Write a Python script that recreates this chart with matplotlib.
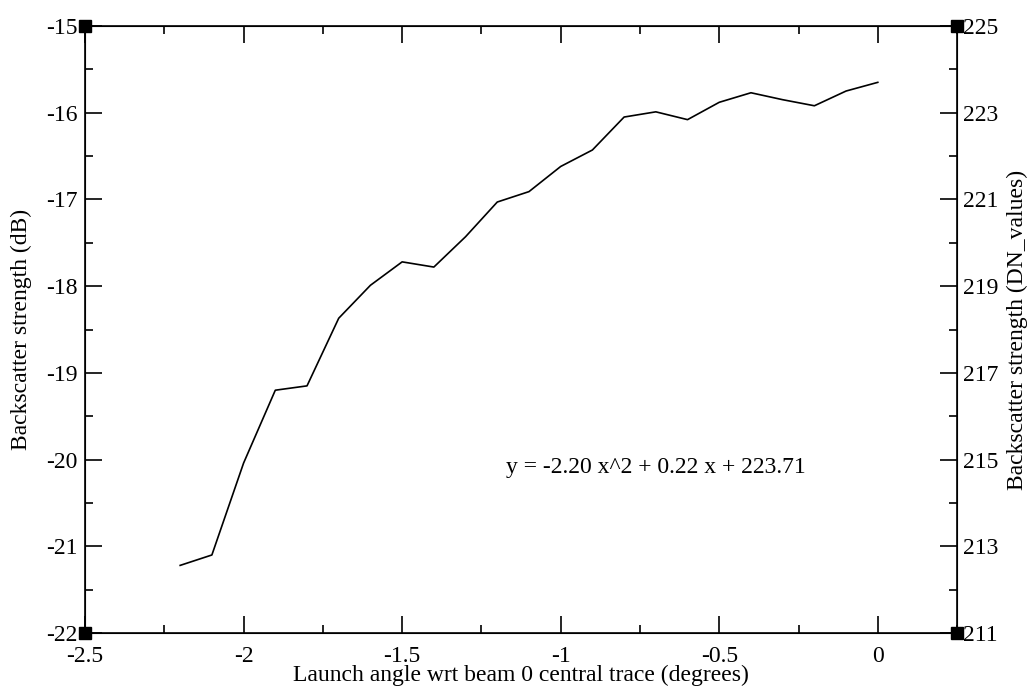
import matplotlib
matplotlib.use("Agg")
import matplotlib.pyplot as plt
from matplotlib.ticker import MultipleLocator

angle = [-2.2, -2.1, -2.0, -1.9, -1.8, -1.7, -1.6, -1.5, -1.4, -1.3, -1.2, -1.1,
         -1.0, -0.9, -0.8, -0.7, -0.6, -0.5, -0.4, -0.3, -0.2, -0.1, 0.0]
strength_db = [-21.22, -21.10, -20.04, -19.20, -19.15, -18.37, -17.99, -17.72,
               -17.78, -17.43, -17.03, -16.91, -16.62, -16.43, -16.05, -15.99,
               -16.08, -15.88, -15.77, -15.85, -15.92, -15.75, -15.65]
x_ticks = [-2.5, -2, -1.5, -1, -0.5, 0]
left_ticks = [-22, -21, -20, -19, -18, -17, -16, -15]
right_ticks = [211, 213, 215, 217, 219, 221, 223, 225]
equation = "y = -2.20 x^2 + 0.22 x + 223.71"

plt.rcParams['font.family'] = ['Liberation Serif', 'DejaVu Serif']
plt.rcParams['axes.unicode_minus'] = False

FS = 17

fig = plt.figure(figsize=(10.32, 6.91), dpi=100)
ax = fig.add_axes([0.0824, 0.0839, 0.8450, 0.8785])
ax.plot(angle, strength_db, color='black', lw=1.2)
ax.set_xlim(-2.5, 0.25)
ax.set_ylim(-22, -15)
ax.set_xticks(x_ticks)
ax.set_xticklabels([f"{v:g}" for v in x_ticks])
ax.xaxis.set_minor_locator(MultipleLocator(0.25))
ax.set_yticks(left_ticks)
ax.set_yticklabels([str(v) for v in left_ticks])
ax.yaxis.set_minor_locator(MultipleLocator(0.5))
ax.tick_params(which='both', direction='in', top=True, right=False, labelsize=FS, width=1.2)
ax.tick_params(axis='x', which='major', pad=9)
ax.tick_params(axis='y', which='major', pad=5.5)
ax.tick_params(which='major', length=12)
ax.tick_params(which='minor', length=6)
for s in ax.spines.values():
    s.set_linewidth(1.2)
ax.set_xlabel("Launch angle wrt beam 0 central trace (degrees)", fontsize=FS, labelpad=-1)
ax.set_ylabel("Backscatter strength (dB)", fontsize=FS, labelpad=10)

ax2 = ax.twinx()
ax2.set_ylim(211, 225)
ax2.set_yticks(right_ticks)
ax2.set_yticklabels([str(v) for v in right_ticks])
ax2.yaxis.set_minor_locator(MultipleLocator(1))
ax2.tick_params(which='both', direction='in', labelsize=FS, width=1.2)
ax2.tick_params(which='major', length=12, pad=4)
ax2.tick_params(which='minor', length=6)
ax2.set_ylabel("Backscatter strength (DN_values)", fontsize=FS, labelpad=6)

ax.text(-0.7, -20.09, equation, fontsize=FS, ha='center', va='center')

ax.plot([0, 1, 0, 1], [0, 0, 1, 1], ls='none', marker='s', ms=9, color='black',
        transform=ax.transAxes, clip_on=False, zorder=5)

fig.savefig("out.png", dpi=100)
